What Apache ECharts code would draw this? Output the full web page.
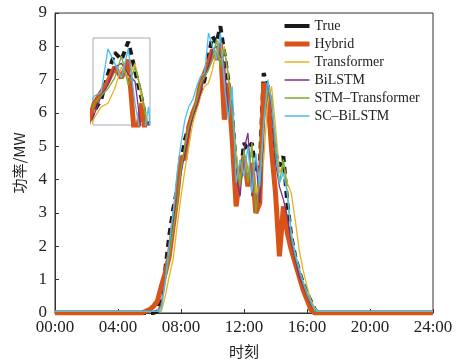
<html>
    <head>
        <meta charset='utf-8'>
        <script src='https://cdn.jsdelivr.net/npm/echarts@6/dist/echarts.min.js'></script>
    </head>
    <body>
        <style>
            html, body, #main {
                width: 100%;
                height: 100%;
                margin: 0;
                background: #fff;
            }
        </style>
        <div id='main'></div>
        <script>

            // hours of the day (15 min steps during daytime)
            var hours = [0, 5.5,
                6, 6.25, 6.5, 6.75, 7, 7.25, 7.5, 7.75,
                8, 8.25, 8.5, 8.75, 9, 9.25, 9.5, 9.75,
                10, 10.25, 10.5, 10.75, 11, 11.25, 11.5, 11.75,
                12, 12.25, 12.5, 12.75, 13, 13.25, 13.5, 13.75,
                14, 14.25, 14.5, 14.75, 15, 15.25, 15.5, 15.75,
                16, 16.25, 16.5, 16.75, 17, 24];

            var trueVals = [0, 0,
                0, 0, 0.05, 0.6, 1.3, 2.3, 3.1, 3.7,
                4.5, 5.2, 5.6, 6.0, 6.3, 6.7, 7.0, 7.7,
                8.3, 8.1, 8.6, 7.8, 7.0, 6.0, 4.3, 4.0,
                5.1, 4.9, 5.1, 4.2, 4.4, 7.2, 6.8, 5.8,
                4.8, 4.4, 4.7, 3.3, 2.3, 1.7, 1.25, 0.9,
                0.6, 0.35, 0.1, 0, 0, 0];

            var hybrid = [0, 0,
                0.1, 0.2, 0.35, 0.8, 1.2, 1.7, 2.6, 3.5,
                4.7, 4.6, 5.6, 6.0, 6.3, 6.9, 7.2, 7.5,
                7.9, 7.6, 8.1, 5.8, 6.9, 5.2, 3.2, 4.2,
                4.7, 3.8, 4.5, 3.0, 3.3, 6.9, 6.6, 4.9,
                3.6, 1.7, 3.2, 2.4, 1.9, 1.5, 1.1, 0.7,
                0.4, 0.1, 0, 0, 0, 0];

            var transformer = [0.05, 0.05,
                0.05, 0.05, 0.05, 0.05, 0.5, 1.1, 1.6, 2.6,
                3.5, 4.3, 5.0, 5.7, 6.1, 6.5, 6.8, 6.9,
                7.3, 7.9, 7.6, 8.0, 7.0, 6.3, 4.8, 3.9,
                4.8, 4.2, 4.9, 3.6, 4.2, 4.6, 6.3, 6.8,
                5.6, 4.2, 4.5, 3.9, 3.6, 2.8, 1.9, 1.3,
                0.8, 0.4, 0.15, 0.05, 0.05, 0.05];

            var bilstm = [0.05, 0.05,
                0.05, 0.05, 0.05, 0.3, 1.0, 1.9, 2.7, 3.4,
                4.2, 4.8, 5.4, 5.9, 6.2, 6.6, 7.1, 7.4,
                7.9, 8.0, 7.7, 7.5, 6.0, 6.4, 4.1, 3.5,
                4.9, 5.4, 3.5, 4.6, 3.3, 5.5, 6.9, 6.2,
                4.5, 3.8, 3.4, 2.9, 2.1, 1.6, 1.1, 0.8,
                0.5, 0.25, 0.05, 0.05, 0.05, 0.05];

            var stmTransformer = [0.05, 0.05,
                0.05, 0.05, 0.05, 0.2, 0.9, 1.7, 2.5, 3.3,
                4.3, 5.0, 5.6, 6.0, 6.4, 6.9, 7.1, 7.3,
                7.6, 8.2, 7.4, 7.9, 7.2, 6.0, 4.6, 3.8,
                4.9, 3.9, 5.1, 3.0, 4.1, 5.8, 6.7, 6.5,
                4.8, 3.9, 4.6, 3.6, 2.3, 1.7, 1.3, 0.9,
                0.55, 0.3, 0.05, 0.05, 0.05, 0.05];

            var scBilstm = [0.05, 0.05,
                0.05, 0.05, 0.05, 0.1, 1.0, 2.0, 3.0, 4.2,
                5.1, 5.8, 6.2, 6.4, 6.8, 7.1, 7.2, 8.4,
                8.0, 7.6, 8.4, 6.9, 5.8, 6.8, 3.9, 4.6,
                4.1, 5.0, 3.6, 4.8, 3.8, 5.6, 7.0, 6.3,
                5.2, 3.9, 4.2, 3.6, 2.4, 1.8, 1.35, 0.95,
                0.65, 0.35, 0.1, 0.05, 0.05, 0.05];

            var names = ['True', 'Hybrid', 'Transformer', 'BiLSTM', 'STM\u2013Transformer', 'SC\u2013BiLSTM'];
            var colors = ['#1a1a1a', '#d95319', '#edb120', '#7e2f8e', '#77ac30', '#4dbeee'];
            var values = [trueVals, hybrid, transformer, bilstm, stmTransformer, scBilstm];

            var serif = '"Liberation Serif", "DejaVu Serif", serif';

            function pairs(vals) {
                return hours.map(function (h, i) { return [h, vals[i]]; });
            }

            function lineStyleOf(i) {
                if (i === 0) return { color: colors[0], width: 4, type: [7, 5] };
                if (i === 1) return { color: colors[1], width: 5 };
                return { color: colors[i], width: 1.3 };
            }

            var series = [];
            [0, 1].forEach(function (g) {
                names.forEach(function (name, i) {
                    series.push({
                        name: name,
                        type: 'line',
                        xAxisIndex: g,
                        yAxisIndex: g,
                        data: pairs(values[i]),
                        symbol: 'none',
                        showSymbol: false,
                        clip: true,
                        silent: true,
                        z: 3 + i + g * 10,
                        lineStyle: lineStyleOf(i),
                        itemStyle: { color: colors[i] }
                    });
                });
            });

            var chart = echarts.init(document.getElementById('main'));

            chart.setOption({
                backgroundColor: '#fff',
                animation: false,
                legend: {
                    orient: 'vertical',
                    left: 277,
                    top: 14,
                    itemWidth: 25,
                    itemHeight: 14,
                    itemGap: 4,
                    textStyle: { fontFamily: serif, fontSize: 14, color: '#222' },
                    data: names.map(function (n, i) {
                        return {
                            name: n,
                            itemStyle: { opacity: 0 },
                            lineStyle: { color: colors[i], type: 'solid', width: i === 0 ? 4 : (i === 1 ? 5 : 1.5) }
                        };
                    })
                },
                grid: [{
                    left: 55, right: 30, top: 13, bottom: 50,
                    show: true, borderColor: '#333', borderWidth: 1
                }, {
                    left: 93, top: 38, width: 57, height: 87,
                    show: true, borderColor: '#aaa', borderWidth: 1,
                    backgroundColor: '#fff'
                }],
                xAxis: [{
                    type: 'value',
                    min: 0, max: 24, interval: 4,
                    name: '时刻',
                    nameLocation: 'middle',
                    nameGap: 31,
                    nameTextStyle: { fontFamily: '"Noto Sans CJK SC"', fontSize: 15, color: '#222' },
                    splitLine: { show: false },
                    axisLine: { lineStyle: { color: '#333' } },
                    axisTick: { inside: true, length: 4, lineStyle: { color: '#333' } },
                    axisLabel: {
                        fontFamily: serif, fontSize: 17, color: '#222', margin: 6,
                        formatter: function (v) { return (v < 10 ? '0' : '') + v + ':00'; }
                    }
                }, {
                    type: 'value', gridIndex: 1,
                    min: 9.2, max: 11.3, show: false
                }],
                yAxis: [{
                    type: 'value',
                    min: 0, max: 9, interval: 1,
                    name: '功率/MW',
                    nameLocation: 'middle',
                    nameGap: 28,
                    nameTextStyle: { fontFamily: '"Noto Sans CJK SC"', fontSize: 15, color: '#222' },
                    splitLine: { show: false },
                    axisLine: { show: true, lineStyle: { color: '#333' } },
                    axisTick: { show: true, inside: true, length: 4, lineStyle: { color: '#333' } },
                    axisLabel: { fontFamily: serif, fontSize: 17, color: '#222', margin: 8 }
                }, {
                    type: 'value', gridIndex: 1,
                    min: 6.3, max: 8.7, show: false
                }],
                series: series
            });

        </script>
    </body>
</html>
